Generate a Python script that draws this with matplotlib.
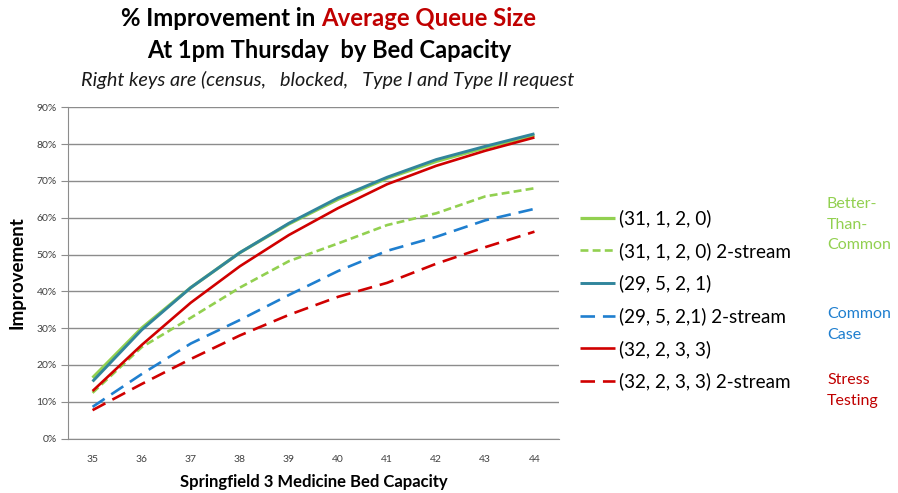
import matplotlib
matplotlib.use("Agg")
import matplotlib.pyplot as plt
from matplotlib.ticker import PercentFormatter

plt.rcParams['font.family'] = ['Lato', 'DejaVu Sans']

capacity = [35, 36, 37, 38, 39, 40, 41, 42, 43, 44]

s31 = [16.5, 30.0, 41.0, 50.5, 58.3, 65.0, 70.7, 75.3, 79.0, 82.4]
s31_2 = [12.4, 24.8, 32.8, 41.0, 48.2, 53.0, 58.0, 61.2, 65.8, 68.0]
s29 = [15.5, 29.5, 41.0, 50.5, 58.5, 65.4, 71.0, 75.8, 79.4, 82.8]
s29_2 = [8.6, 17.5, 25.8, 32.2, 39.0, 45.5, 51.0, 54.8, 59.3, 62.4]
s32 = [12.9, 25.4, 36.9, 46.8, 55.3, 62.6, 69.1, 74.1, 78.2, 81.8]
s32_2 = [7.7, 14.8, 21.6, 28.0, 33.6, 38.5, 42.3, 47.5, 52.0, 56.2]

labels = ["(31, 1, 2, 0)", "(31, 1, 2, 0) 2-stream", "(29, 5, 2, 1)",
          "(29, 5, 2,1) 2-stream", "(32, 2, 3, 3)", "(32, 2, 3, 3) 2-stream"]
yticks = [0, 10, 20, 30, 40, 50, 60, 70, 80, 90]

GREEN = "#92D050"
TEAL = "#31859C"
BLUE = "#1F7FCF"
RED = "#D00000"

W, H = 898, 493
fig = plt.figure(figsize=(W / 100, H / 100), dpi=100)
ax = fig.add_axes([68 / W, 1 - 438.5 / H, (559 - 68) / W, (438.5 - 107.3) / H])

x = list(range(len(capacity)))
lw = 1.9
l1, = ax.plot(x, s31, color=GREEN, lw=lw + 0.4, solid_capstyle='butt')
l2, = ax.plot(x, s31_2, color=GREEN, lw=lw, dashes=(3, 1.6))
l3, = ax.plot(x, s29, color=TEAL, lw=lw + 0.2, solid_capstyle='butt')
l4, = ax.plot(x, s29_2, color=BLUE, lw=lw, dashes=(5.5, 3))
l5, = ax.plot(x, s32, color=RED, lw=lw, solid_capstyle='butt')
l6, = ax.plot(x, s32_2, color=RED, lw=lw, dashes=(5.5, 3))

ax.set_xlim(-0.5, len(capacity) - 0.5)
ax.set_ylim(0, 90)
ax.set_yticks(yticks)
ax.yaxis.set_major_formatter(PercentFormatter(decimals=0))
ax.set_xticks(x)
ax.set_xticklabels([str(c) for c in capacity])
ax.grid(axis='y', color='#8C8C8C', lw=1.0)
ax.set_axisbelow(True)
for s in ['top', 'right']:
    ax.spines[s].set_visible(False)
ax.spines['left'].set_color('#8C8C8C')
ax.spines['bottom'].set_color('#8C8C8C')
ax.tick_params(axis='y', length=5, color='#8C8C8C', labelsize=7.5, labelcolor='#404040', pad=3)
ax.tick_params(axis='x', length=0, labelsize=7.5, labelcolor='#404040', pad=12)

ax.set_ylabel("Improvement", fontsize=13.5, fontweight='bold', labelpad=8)
ax.set_xlabel("Springfield 3 Medicine Bed Capacity", fontsize=12, fontweight='bold', labelpad=7)

leg = ax.legend([l1, l2, l3, l4, l5, l6], labels, loc='center left',
                bbox_to_anchor=(580 / W, 1 - 300 / H), bbox_transform=fig.transFigure,
                frameon=False, fontsize=13.6, handlelength=1.85, handletextpad=0.2,
                labelspacing=0.78, borderpad=0, borderaxespad=0)

# Title lines
fig.canvas.draw()
r = fig.canvas.get_renderer()
fs_t = 17.2
ta = fig.text(0, 0, "% Improvement in ", fontsize=fs_t, fontweight='bold', color='black')
tb = fig.text(0, 0, "Average Queue Size", fontsize=fs_t, fontweight='bold', color='#C00000')
wa = ta.get_window_extent(r).width
wb = tb.get_window_extent(r).width
cx = 329
start = cx - (wa + wb) / 2
ta.set_position((start / W, 1 - 26 / H))
tb.set_position(((start + wa) / W, 1 - 26 / H))
ta.set_va('baseline'); tb.set_va('baseline')
fig.text(cx / W, 1 - 58 / H, "At 1pm Thursday  by Bed Capacity", fontsize=17,
         fontweight='bold', ha='center', va='baseline')
fig.text(328 / W, 1 - 86 / H, "Right keys are (census,   blocked,   Type I and Type II request",
         fontsize=14.3, style='italic', ha='center', va='baseline', color='#1a1a1a')

# Group labels
fig.text(827 / W, 1 - 197 / H, "Better-\nThan-\nCommon", color=GREEN, fontsize=11.5,
         va='top', ha='left', linespacing=1.6)
fig.text(827 / W, 1 - 307 / H, "Common\nCase", color=BLUE, fontsize=11.5,
         va='top', ha='left', linespacing=1.6)
fig.text(827 / W, 1 - 373 / H, "Stress\nTesting", color='#C00000', fontsize=11.5,
         va='top', ha='left', linespacing=1.6)

fig.savefig("out.png", dpi=100)
